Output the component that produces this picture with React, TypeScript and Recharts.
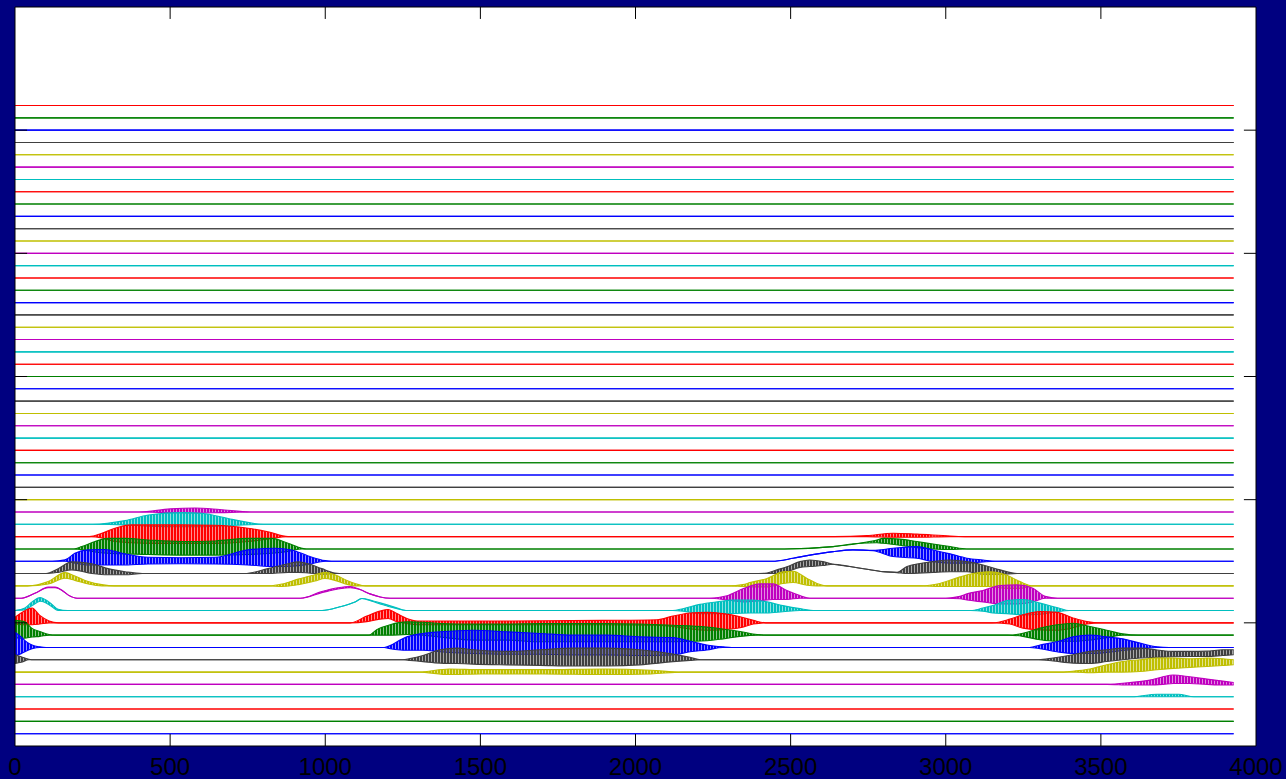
import React from 'react';
import { ComposedChart, Area, XAxis, YAxis, ReferenceLine } from 'recharts';

// [x, low offset, high offset] — offsets in units of trace spacing, relative to each trace's baseline
type Knot = [number, number, number];

const X_TICKS = [0, 500, 1000, 1500, 2000, 2500, 3000, 3500, 4000];
const Y_TICKS = [10, 20, 30, 40, 50];
const TRACE_COLORS = ['#0000ff', '#008000', '#ff0000', '#00bfbf', '#bf00bf', '#bfbf00', '#404040'];
const TRACE_COUNT = 52;
const TRACE_END = 3928;

const trace3: Knot[] = [[3600, 0, 0], [3680, 0, 0.2], [3750, 0, 0.2], [3800, 0, 0]];
const trace4: Knot[] = [
  [3520, 0, 0], [3594, -0.05, 0.15], [3658, -0.05, 0.35], [3700, 0, 0.62], [3733, 0.08, 0.76],
  [3787, 0.08, 0.62], [3842, 0, 0.43], [3893, -0.05, 0.27], [3928, -0.05, 0.15],
];
const trace5: Knot[] = [
  [1300, 0, 0], [1400, -0.2, 0.25], [1500, -0.15, 0.2], [1700, -0.15, 0.2], [1900, -0.2, 0.25],
  [2050, -0.15, 0.15], [2150, 0, 0],
  [3380, 0, 0], [3420, 0, 0.1], [3465, -0.05, 0.25], [3519, 0, 0.6], [3571, 0, 0.86], [3626, 0.05, 1.0],
  [3681, 0.19, 1.14], [3733, 0.3, 1.14], [3787, 0.38, 1.08], [3842, 0.46, 1.14], [3893, 0.54, 1.08],
  [3928, 0.6, 1.0],
];
const trace6: Knot[] = [
  [0, -0.3, 0.4], [20, -0.2, 0.25], [45, 0, 0.05], [60, 0, 0],
  [1250, 0, 0], [1273, -0.05, 0.1], [1315, -0.15, 0.35], [1370, -0.27, 0.81], [1425, -0.3, 0.95],
  [1476, -0.35, 0.81], [1586, -0.41, 0.68], [1692, -0.45, 0.81], [1799, -0.5, 0.95], [1908, -0.5, 0.95],
  [2014, -0.41, 0.81], [2121, -0.15, 0.46], [2176, -0.05, 0.2], [2210, 0, 0],
  [3300, 0, 0], [3346, -0.1, 0.15], [3410, -0.27, 0.41], [3465, -0.3, 0.68], [3519, -0.14, 0.81],
  [3571, 0, 0.95], [3626, 0.14, 0.95], [3681, 0.2, 0.8], [3733, 0.25, 0.68], [3787, 0.27, 0.68],
  [3842, 0.27, 0.7], [3893, 0.35, 0.81], [3928, 0.41, 0.81],
];
const trace7: Knot[] = [
  [0, -0.65, 1.25], [20, -0.5, 0.85], [35, -0.3, 0.5], [55, -0.1, 0.2], [80, 0, 0.05], [100, 0, 0],
  [1190, 0, 0], [1209, -0.1, 0.15], [1241, -0.2, 0.6], [1263, -0.22, 0.86], [1315, -0.22, 1.14],
  [1370, -0.35, 1.27], [1476, -0.49, 1.4], [1586, -0.55, 1.27], [1692, -0.55, 1.14], [1799, -0.6, 1.0],
  [1908, -0.6, 1.0], [2014, -0.65, 0.86], [2121, -0.6, 0.8], [2176, -0.35, 0.5], [2230, -0.2, 0.2],
  [2282, 0, 0.05], [2310, 0, 0],
  [3270, 0, 0], [3304, -0.1, 0.2], [3358, -0.35, 0.46], [3410, -0.49, 0.86], [3465, -0.49, 1.0],
  [3519, -0.4, 0.86], [3571, -0.25, 0.7], [3626, -0.1, 0.35], [3681, 0, 0.05], [3720, 0, 0],
];
const trace8: Knot[] = [
  [0, -0.2, 1.2], [30, -0.25, 1.1], [55, -0.15, 0.55], [80, -0.1, 0.3], [110, 0, 0.05], [130, 0, 0],
  [1140, 0, 0], [1166, 0, 0.45], [1209, 0, 0.85], [1263, 0.05, 1.08], [1315, 0, 1.05], [1370, -0.15, 0.95],
  [1476, -0.4, 0.9], [1586, -0.4, 0.9], [1692, -0.54, 0.95], [1799, -0.54, 0.95], [1908, -0.54, 0.95],
  [2014, -0.54, 0.9], [2121, -0.54, 0.8], [2230, -0.45, 0.65], [2282, -0.3, 0.5], [2337, -0.1, 0.3],
  [2392, 0, 0.05], [2420, 0, 0],
  [3200, 0, 0], [3249, -0.1, 0.15], [3304, -0.38, 0.57], [3358, -0.5, 0.84], [3410, -0.5, 0.97],
  [3465, -0.4, 0.7], [3519, -0.2, 0.4], [3571, 0, 0.1], [3620, 0, 0],
];
const trace9: Knot[] = [
  [0, -0.1, 0.45], [26, -0.15, 0.9], [55, -0.15, 1.2], [80, -0.1, 0.6], [110, 0, 0.15], [140, 0, 0],
  [1080, 0, 0], [1134, 0.1, 0.55], [1176, 0.3, 0.95], [1203, 0.35, 1.08], [1231, 0.1, 0.75],
  [1263, -0.05, 0.35], [1296, -0.15, 0.15], [1600, -0.15, 0.15], [1900, -0.15, 0.2], [2069, -0.2, 0.25],
  [2121, -0.3, 0.55], [2176, -0.5, 0.8], [2230, -0.6, 0.85], [2282, -0.55, 0.75], [2337, -0.4, 0.5],
  [2380, -0.1, 0.2], [2420, 0, 0],
  [3150, 0, 0], [3207, -0.1, 0.3], [3249, -0.43, 0.65], [3304, -0.57, 0.92], [3358, -0.6, 0.85],
  [3410, -0.4, 0.4], [3455, -0.1, 0.1], [3500, 0, 0],
];
const trace10: Knot[] = [
  [0, 0, 0], [32, 0.05, 0.2], [55, 0.4, 0.7], [81, 0.75, 1.05], [97, 0.65, 0.9], [119, 0.3, 0.5],
  [139, 0, 0.1], [170, 0, 0],
  [990, 0, 0], [1047, 0.3, 0.3], [1096, 0.7, 0.7], [1118, 0.97, 0.97], [1150, 0.75, 0.82],
  [1177, 0.53, 0.62], [1225, 0.18, 0.27], [1260, 0, 0],
  [2120, 0, 0], [2153, -0.05, 0.15], [2208, -0.25, 0.5], [2263, -0.25, 0.7], [2314, -0.24, 0.84],
  [2369, -0.2, 0.84], [2424, -0.2, 0.7], [2475, -0.1, 0.4], [2530, 0, 0.15], [2580, 0, 0],
  [3080, 0, 0], [3120, -0.05, 0.2], [3152, -0.2, 0.4], [3197, -0.25, 0.8], [3249, -0.35, 0.9],
  [3304, -0.3, 0.6], [3358, -0.1, 0.25], [3400, 0, 0],
];
const trace11: Knot[] = [
  [20, 0, 0], [64, 0.4, 0.4], [107, 0.85, 0.9], [129, 0.85, 0.9], [151, 0.65, 0.65], [172, 0.25, 0.25],
  [200, 0, 0],
  [920, 0, 0], [989, 0.45, 0.55], [1041, 0.75, 0.85], [1080, 0.85, 0.95], [1112, 0.7, 0.7],
  [1144, 0.35, 0.35], [1177, 0.1, 0.1], [1210, 0, 0],
  [2240, 0, 0], [2295, -0.15, 0.2], [2346, -0.3, 0.76], [2401, -0.2, 1.16], [2443, -0.1, 1.16],
  [2488, -0.1, 0.62], [2530, 0, 0.22], [2562, 0, 0],
  [3000, 0, 0], [3046, -0.05, 0.15], [3068, -0.15, 0.35], [3120, -0.3, 0.62], [3175, -0.46, 1.03],
  [3230, -0.46, 1.08], [3281, -0.3, 0.8], [3320, 0, 0.15], [3360, 0, 0],
];
const trace12: Knot[] = [
  [40, 0, 0], [107, 0.15, 0.35], [161, 0.62, 1.08], [193, 0.45, 0.8], [236, 0.15, 0.35], [280, 0, 0.1],
  [320, 0, 0],
  [820, 0, 0], [861, -0.05, 0.15], [913, 0.1, 0.55], [967, 0.4, 0.9], [999, 0.6, 1.1], [1031, 0.45, 0.9],
  [1074, 0.1, 0.4], [1096, 0, 0.2], [1130, 0, 0],
  [2300, 0, 0], [2346, -0.05, 0.1], [2369, -0.08, 0.27], [2424, -0.08, 0.6], [2475, 0.19, 1.14],
  [2508, 0.27, 1.19], [2553, 0.05, 0.6], [2585, 0, 0.2], [2617, 0, 0],
  [2920, 0, 0], [2981, -0.05, 0.2], [3046, -0.05, 0.73], [3088, -0.05, 1.0], [3142, -0.05, 1.14],
  [3197, -0.2, 0.86], [3239, -0.2, 0.35], [3281, 0, 0],
];
const trace13: Knot[] = [
  [100, 0, 0], [139, 0.1, 0.4], [183, 0.3, 0.95], [248, 0, 0.8], [300, -0.1, 0.4], [355, -0.1, 0.15],
  [410, 0, 0],
  [740, 0, 0], [815, 0, 0.4], [880, 0.1, 0.8], [913, 0.1, 0.95], [945, 0.05, 0.8], [989, -0.05, 0.4],
  [1031, 0, 0.05], [1060, 0, 0],
  [2380, 0, 0], [2424, 0, 0.05], [2456, 0, 0.3], [2488, 0.15, 0.55], [2530, 0.5, 0.97], [2562, 0.57, 1.1],
  [2604, 0.65, 0.97], [2637, 0.76, 0.76], [2691, 0.57, 0.57], [2746, 0.35, 0.35], [2798, 0.16, 0.16],
  [2843, 0.08, 0.1], [2875, 0, 0.57], [2959, 0.1, 0.97], [3014, 0.15, 1.1], [3068, 0.15, 0.97],
  [3120, -0.05, 0.7], [3175, -0.05, 0.3], [3230, 0, 0],
];
const trace14: Knot[] = [
  [120, 0, 0], [161, 0, 0.11], [193, -0.15, 0.65], [236, -0.3, 0.92], [290, -0.3, 0.95], [345, -0.3, 0.65],
  [429, -0.22, 0.32], [537, -0.2, 0.28], [645, -0.22, 0.32], [751, -0.3, 0.92], [838, -0.43, 1.05],
  [892, -0.4, 0.92], [945, -0.25, 0.43], [1000, 0, 0.05], [1020, 0, 0],
  [2440, 0, 0], [2508, 0.24, 0.24], [2553, 0.46, 0.46], [2637, 0.78, 0.78], [2701, 0.92, 0.92],
  [2766, 0.85, 0.88], [2830, 0.38, 1.05], [2907, 0.24, 1.19], [2959, -0.03, 0.92], [3014, -0.15, 0.6],
  [3068, -0.15, 0.25], [3120, -0.05, 0.1], [3160, 0, 0],
];
const trace15: Knot[] = [
  [190, 0, 0], [215, -0.05, 0.19], [258, -0.25, 0.6], [300, -0.35, 0.86], [355, -0.4, 0.86],
  [429, -0.45, 0.73], [537, -0.5, 0.6], [645, -0.5, 0.65], [751, -0.45, 0.86], [827, -0.35, 0.86],
  [880, -0.2, 0.46], [925, 0, 0.05], [940, 0, 0],
  [2480, 0, 0], [2637, 0.19, 0.19], [2723, 0.46, 0.46], [2778, 0.5, 0.72], [2798, 0.46, 0.86],
  [2852, 0.3, 0.8], [2907, 0.1, 0.6], [2959, 0, 0.4], [3014, -0.05, 0.2], [3068, 0, 0],
];
const trace16: Knot[] = [
  [240, 0, 0], [280, -0.1, 0.27], [322, -0.4, 0.68], [377, -0.5, 0.95], [451, -0.55, 0.95],
  [537, -0.55, 0.95], [645, -0.55, 0.92], [751, -0.4, 0.68], [815, -0.2, 0.4], [880, 0, 0],
  [2640, 0, 0], [2746, 0, 0.08], [2830, -0.05, 0.27], [2907, -0.05, 0.2], [3014, 0, 0.05], [3070, 0, 0],
];
const trace17: Knot[] = [
  [250, 0, 0], [355, -0.05, 0.3], [430, -0.15, 0.75], [540, -0.2, 0.95], [600, -0.2, 0.9],
  [700, -0.1, 0.4], [800, 0, 0],
];
const trace18: Knot[] = [
  [400, 0, 0], [500, -0.05, 0.25], [580, -0.08, 0.32], [660, -0.05, 0.2], [760, 0, 0],
];

// trace index (0 = bottom) -> envelope knots; traces not listed are flat
const envelopes: Record<number, Knot[]> = {
  3: trace3, 4: trace4, 5: trace5, 6: trace6, 7: trace7, 8: trace8, 9: trace9, 10: trace10,
  11: trace11, 12: trace12, 13: trace13, 14: trace14, 15: trace15, 16: trace16, 17: trace17, 18: trace18,
};

type Pt = { x: number; v: [number, number] };

function buildTrace(i: number): Pt[] {
  const base = i + 1;
  const knots = envelopes[i] ?? [];
  const pts: Pt[] = [];
  if (!knots.length || knots[0][0] > 0) pts.push({ x: 0, v: [base, base] });
  for (const [x, lo, hi] of knots) pts.push({ x, v: [base + lo, base + hi] });
  if (!knots.length || knots[knots.length - 1][0] < TRACE_END) pts.push({ x: TRACE_END, v: [base, base] });
  return pts;
}

const traces = Array.from({ length: TRACE_COUNT }, (_, i) => ({
  id: i,
  color: TRACE_COLORS[i % TRACE_COLORS.length],
  colorIdx: i % TRACE_COLORS.length,
  data: buildTrace(i),
}));

const W = 1286;
const H = 779;
const X_TICK_LEN = 39; // in x data units (~12px)
const Y_TICK_LEN = 0.97; // in y data units (~12px)

const renderXTick = (props: any) => {
  const { x, y, payload } = props;
  return (
    <text
      x={x}
      y={y}
      dy={17}
      textAnchor="middle"
      fontSize={24}
      fontFamily="'Liberation Sans', Arial, Helvetica, sans-serif"
      fill="#000"
    >
      {payload.value}
    </text>
  );
};

export default function App() {
  return (
    <div style={{ position: 'absolute', left: 0, top: 0, width: W, height: H, background: '#000080', overflow: 'hidden' }}>
      <div style={{ position: 'absolute', left: 15, top: 7, width: 1241, height: 739, background: '#ffffff' }} />
      <div style={{ position: 'absolute', left: 0, top: 0 }}>
        <ComposedChart width={W} height={H} margin={{ top: 7, right: 30, left: 15, bottom: 0 }}>
          <defs>
            {/* dense vertical hatching standing in for the fast oscillation inside each envelope */}
            {TRACE_COLORS.map((c, k) => (
              <pattern key={k} id={`osc-${k}`} patternUnits="userSpaceOnUse" width={3} height={4}>
                <rect x={0} y={0} width={3} height={4} fill={c} fillOpacity={0.45} />
                <rect x={0} y={0} width={2} height={4} fill={c} />
              </pattern>
            ))}
          </defs>
          <XAxis
            type="number"
            dataKey="x"
            domain={[0, 4000]}
            ticks={X_TICKS}
            interval={0}
            allowDataOverflow
            axisLine={false}
            tickLine={false}
            tickSize={0}
            tickMargin={12}
            height={33}
            tick={renderXTick}
          />
          <YAxis type="number" domain={[0, 60]} ticks={Y_TICKS} allowDataOverflow hide />
          {[...traces].reverse().map((t) => (
            <Area
              key={t.id}
              data={t.data}
              dataKey="v"
              type="monotone"
              stroke={t.color}
              strokeWidth={1.1}
              fill={`url(#osc-${t.colorIdx})`}
              fillOpacity={1}
              dot={false}
              activeDot={false}
              isAnimationActive={false}
            />
          ))}
          {X_TICKS.slice(1, -1).map((v) => (
            <ReferenceLine key={`xb${v}`} segment={[{ x: v, y: 0 }, { x: v, y: Y_TICK_LEN }]} stroke="#000" />
          ))}
          {X_TICKS.slice(1, -1).map((v) => (
            <ReferenceLine key={`xt${v}`} segment={[{ x: v, y: 60 - Y_TICK_LEN }, { x: v, y: 60 }]} stroke="#000" />
          ))}
          {Y_TICKS.map((v) => (
            <ReferenceLine key={`yl${v}`} segment={[{ x: 0, y: v }, { x: X_TICK_LEN, y: v }]} stroke="#000" />
          ))}
          {Y_TICKS.map((v) => (
            <ReferenceLine key={`yr${v}`} segment={[{ x: 4000 - X_TICK_LEN, y: v }, { x: 4000, y: v }]} stroke="#000" />
          ))}
          <ReferenceLine x={0} stroke="#000" />
          <ReferenceLine x={4000} stroke="#000" />
          <ReferenceLine y={0} stroke="#000" />
          <ReferenceLine y={60} stroke="#000" />
        </ComposedChart>
      </div>
    </div>
  );
}
